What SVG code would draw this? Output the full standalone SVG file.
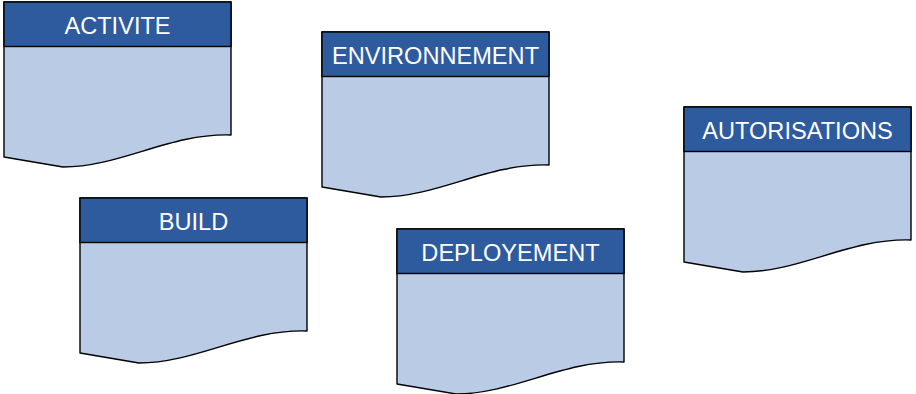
<svg xmlns="http://www.w3.org/2000/svg" xmlns:xlink="http://www.w3.org/1999/xlink" width="916" height="394" viewBox="0 0 916 394">
<style>
.body{fill:#B9CBE5;stroke:#000;stroke-width:1.4;stroke-linejoin:round}
.head{fill:#2E5A9E;stroke:#000;stroke-width:1.4}
.lbl{font-family:"Liberation Sans",Arial,sans-serif;font-size:23.6px;fill:#fff;text-anchor:middle}
</style>
<defs>
<path id="doc" d="M0,0 H227 V133 C166,131 116,165 59,165 L0,155 Z"/>
<rect id="hdr" x="0" y="0" width="227" height="44.5"/>
</defs>
<rect width="916" height="394" fill="#fff"/>
<g id="activite" transform="translate(4,2)">
<use xlink:href="#doc" class="body"/>
<use xlink:href="#hdr" class="head"/>
<text class="lbl" x="113.5" y="32">ACTIVITE</text>
</g>
<g id="environnement" transform="translate(322,32)">
<use xlink:href="#doc" class="body"/>
<use xlink:href="#hdr" class="head"/>
<text class="lbl" x="113.5" y="32">ENVIRONNEMENT</text>
</g>
<g id="autorisations" transform="translate(684,107)">
<use xlink:href="#doc" class="body"/>
<use xlink:href="#hdr" class="head"/>
<text class="lbl" x="113.5" y="32">AUTORISATIONS</text>
</g>
<g id="build" transform="translate(80,198)">
<use xlink:href="#doc" class="body"/>
<use xlink:href="#hdr" class="head"/>
<text class="lbl" x="113.5" y="32">BUILD</text>
</g>
<g id="deploiement" transform="translate(397,229)">
<use xlink:href="#doc" class="body"/>
<use xlink:href="#hdr" class="head"/>
<text class="lbl" x="113.5" y="32">DEPLOYEMENT</text>
</g>
<g id="connectors"></g>
</svg>
